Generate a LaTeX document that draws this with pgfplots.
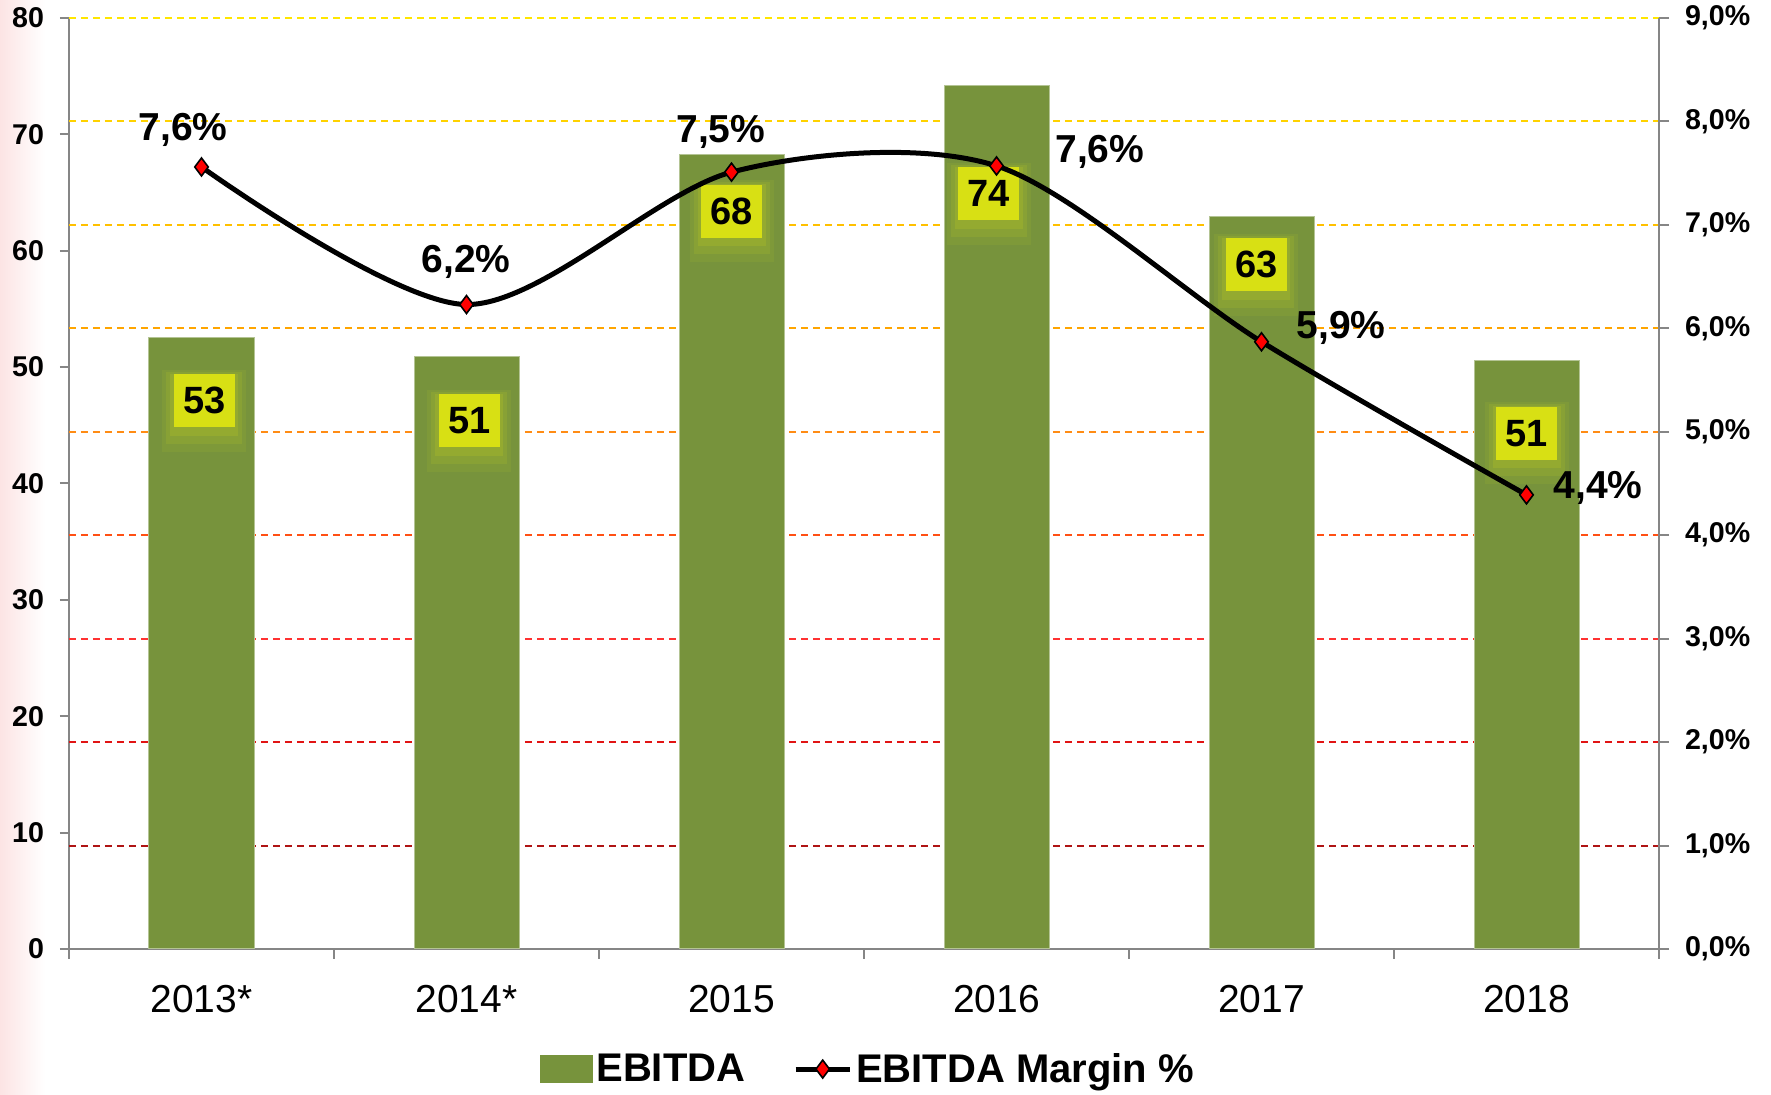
\documentclass[border=0pt]{standalone}
\usepackage{fontspec}
\setmainfont{Liberation Sans}
\usepackage{pgfplots}
\pgfplotsset{compat=1.18}
\definecolor{barcol}{RGB}{119,147,60}
\definecolor{axgray}{RGB}{134,134,134}
\definecolor{lblbox}{RGB}{216,224,20}
\definecolor{glow}{RGB}{205,215,30}
\definecolor{g9}{RGB}{255,230,0}
\definecolor{g8}{RGB}{255,210,0}
\definecolor{g7}{RGB}{255,192,0}
\definecolor{g6}{RGB}{255,165,0}
\definecolor{g5}{RGB}{255,140,20}
\definecolor{g4}{RGB}{255,80,20}
\definecolor{g3}{RGB}{255,50,50}
\definecolor{g2}{RGB}{225,20,20}
\definecolor{g1}{RGB}{175,20,20}
\tikzset{
  barlbl/.style={fill=lblbox, minimum width=30.5pt, minimum height=26.5pt, inner sep=0pt,
    font=\bfseries\fontsize{19}{21}\selectfont},
  glowA/.style={fill=glow, opacity=0.18, minimum width=34pt, minimum height=31pt, inner sep=0pt, yshift=-2pt},
  glowB/.style={fill=glow, opacity=0.13, minimum width=38pt, minimum height=36pt, inner sep=0pt, yshift=-3.5pt},
  glowC/.style={fill=glow, opacity=0.09, minimum width=42pt, minimum height=41pt, inner sep=0pt, yshift=-5pt},
  pctlbl/.style={font=\bfseries\fontsize{19.5}{22}\selectfont, inner sep=0pt},
  gl/.style={dash pattern=on 3.5pt off 2.5pt, line width=1pt}
}
\newcommand\barlabel[3]{%
  \node[glowC] at (axis cs:#1,#2) {};
  \node[glowB] at (axis cs:#1,#2) {};
  \node[glowA] at (axis cs:#1,#2) {};
  \node[barlbl] at (axis cs:#1,#2) {#3};}
\begin{document}
\begin{tikzpicture}
\useasboundingbox (-34.5pt,-73pt) rectangle (851pt,474.5pt);
\shade[left color={rgb,255:red,252;green,228;blue,228}, right color=white] (-34.5pt,-73pt) rectangle (-12pt,474.5pt);
\begin{axis}[
  at={(0,0)}, anchor=south west,
  scale only axis, width=795pt, height=465.5pt,
  xmin=-0.5, xmax=5.5, ymin=0, ymax=80,
  axis x line*=bottom, axis y line*=left,
  axis line style={axgray, line width=1pt},
  tick align=outside,
  xtick={0,1,2,3,4,5},
  xticklabels={2013*,2014*,2015,2016,2017,2018},
  major x tick style={draw=none},
  minor xtick={-0.5,0.5,1.5,2.5,3.5,4.5,5.5},
  minor x tick style={axgray, line width=1pt},
  minor tick length=5pt,
  xticklabel style={font=\fontsize{19.5}{22}\selectfont, yshift=-10pt},
  ytick={0,10,20,30,40,50,60,70,80},
  yticklabels={0,10,20,30,40,50,60,70,80},
  y tick style={axgray, line width=1pt},
  major tick length=4.5pt,
  yticklabel style={font=\bfseries\fontsize{14.3}{16}\selectfont, xshift=-4.5pt},
  clip=false,
]
\addplot[gl, g1, forget plot] coordinates {(-0.5,8.889) (5.5,8.889)};
\addplot[gl, g2, forget plot] coordinates {(-0.5,17.778) (5.5,17.778)};
\addplot[gl, g3, forget plot] coordinates {(-0.5,26.667) (5.5,26.667)};
\addplot[gl, g4, forget plot] coordinates {(-0.5,35.556) (5.5,35.556)};
\addplot[gl, g5, forget plot] coordinates {(-0.5,44.444) (5.5,44.444)};
\addplot[gl, g6, forget plot] coordinates {(-0.5,53.333) (5.5,53.333)};
\addplot[gl, g7, forget plot] coordinates {(-0.5,62.222) (5.5,62.222)};
\addplot[gl, g8, forget plot] coordinates {(-0.5,71.111) (5.5,71.111)};
\addplot[gl, g9, forget plot] coordinates {(-0.5,80) (5.5,80)};
\addplot[ybar, bar width=52.5pt, fill=barcol, draw=barcol!55!white, line width=0.5pt, forget plot]
  coordinates {(0,52.52) (1,50.87) (2,68.25) (3,74.17) (4,62.91) (5,50.58)};
\barlabel{0.01}{47.1}{53}
\barlabel{1.01}{45.4}{51}
\barlabel{2.0}{63.4}{68}
\barlabel{2.97}{64.9}{74}
\barlabel{3.98}{58.8}{63}
\barlabel{5.0}{44.3}{51}
\end{axis}
\begin{axis}[
  at={(0,0)}, anchor=south west,
  scale only axis, width=795pt, height=465.5pt,
  xmin=-0.5, xmax=5.5, ymin=0, ymax=9,
  axis x line=none, axis y line*=right,
  axis line style={axgray, line width=1pt},
  tick align=outside,
  ytick={0,1,2,3,4,5,6,7,8,9},
  yticklabels={{0,0\%},{1,0\%},{2,0\%},{3,0\%},{4,0\%},{5,0\%},{6,0\%},{7,0\%},{8,0\%},{9,0\%}},
  y tick style={axgray, line width=1pt},
  major tick length=5pt,
  yticklabel style={font=\bfseries\fontsize{14.3}{16}\selectfont, xshift=4.5pt},
  clip=false,
  legend columns=2,
  legend style={at={(0.503,-0.129)}, anchor=center, draw=none, fill=none,
    font=\bfseries\fontsize{20}{22}\selectfont,
    /tikz/every even column/.append style={column sep=22pt}},
  legend image code/.code={\draw[#1, mark repeat=2, mark phase=2] plot coordinates {(0pt,0pt) (13.5pt,0pt) (27pt,0pt)};},
]
\addlegendimage{legend image code/.code={\fill[barcol] (0pt,-6.75pt) rectangle (26pt,6.75pt);}}
\addlegendentry{EBITDA}
\addplot[black, line width=2.5pt, smooth, mark=diamond*, mark size=4.5pt,
  mark options={fill=red, draw=black, line width=0.8pt}]
  coordinates {(0,7.56) (1,6.23) (2,7.51) (3,7.57) (4,5.87) (5,4.39)};
\addlegendentry{EBITDA Margin \%}
\node[pctlbl] at (axis cs:-0.07,7.92) {7,6\%};
\node[pctlbl] at (axis cs:0.998,6.64) {6,2\%};
\node[pctlbl] at (axis cs:1.96,7.90) {7,5\%};
\node[pctlbl] at (axis cs:3.39,7.71) {7,6\%};
\node[pctlbl] at (axis cs:4.30,6.00) {5,9\%};
\node[pctlbl] at (axis cs:5.27,4.46) {4,4\%};
\end{axis}
\end{tikzpicture}
\end{document}
